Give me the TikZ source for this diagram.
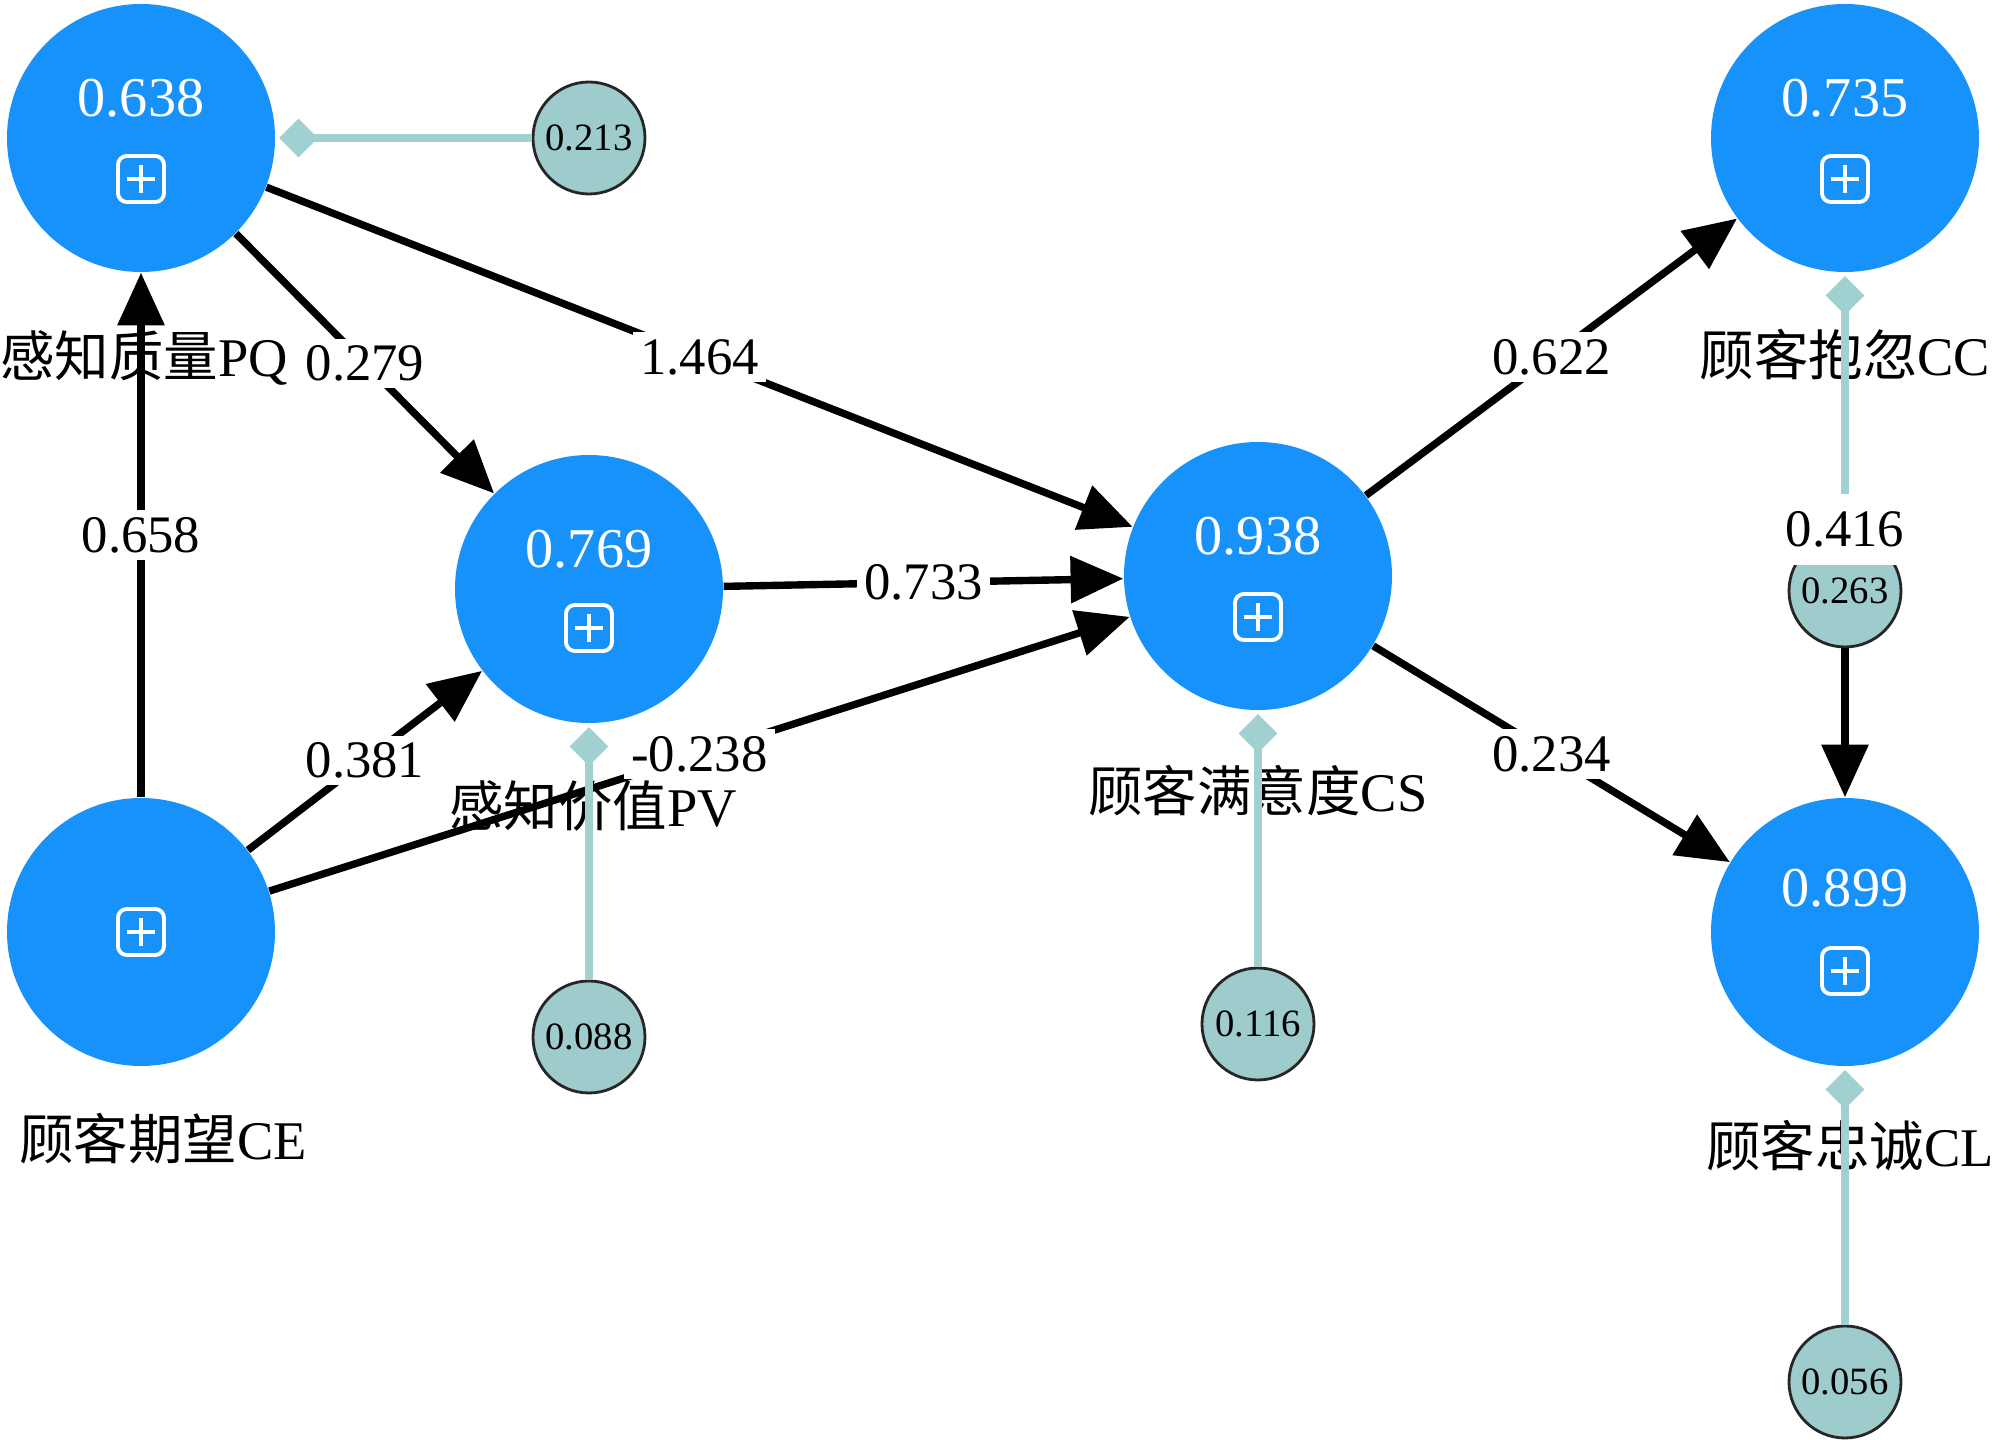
\documentclass[tikz,border=0pt]{standalone}
\usepackage{fontspec}
\setmainfont{Liberation Serif}
\newfontfamily\cjk{Noto Sans CJK SC}
\usetikzlibrary{arrows.meta,calc}
\definecolor{lvblue}{RGB}{22,146,250}
\definecolor{errfill}{RGB}{158,203,204}
\definecolor{indteal}{RGB}{160,208,208}
% white expand box inside a latent variable
\newcommand{\plusbox}[1]{%
  \begin{scope}[shift={(#1)}]
    \draw[white,line width=1.1pt,rounded corners=2.5pt] (-23,-23) rectangle (23,23);
    \draw[white,line width=1.1pt] (-14,0) -- (14,0) (0,-14) -- (0,14);
  \end{scope}}
\begin{document}
\begin{tikzpicture}[x=0.1mm,y=-0.1mm,
    lv/.style={circle,fill=lvblue,minimum size=26.8mm,inner sep=0pt},
    err/.style={circle,draw=black!85,line width=0.8pt,fill=errfill,minimum size=11.2mm,
      inner sep=0pt,font=\fontsize{11}{13}\selectfont},
    val/.style={text=white,inner sep=0pt,font=\fontsize{16}{19}\selectfont},
    lvname/.style={inner sep=0pt,font=\fontsize{15.5}{18}\selectfont},
    lbl/.style={fill=white,inner sep=2pt,font=\fontsize{15}{18}\selectfont},
    arr/.style={line width=2.1pt,-{Triangle[length=15pt,width=13pt]}},
    ind/.style={indteal,line width=2pt,shorten >=1pt,-{Diamond[length=11pt,width=11pt]}}]
  \useasboundingbox (0,0) rectangle (2000,1440);
  % latent variables
  \node[lv] (PQ) at (141,138) {};
  \node[lv] (CC) at (1845,138) {};
  \node[lv] (PV) at (589,589) {};
  \node[lv] (CS) at (1258,576) {};
  \node[lv] (CE) at (141,932) {};
  \node[lv] (CL) at (1845,932) {};
  \node[val] (vPQ) at ($(PQ)+(0,-40)$) {0.638};
  \node[val] (vCC) at ($(CC)+(0,-40)$) {0.735};
  \node[val] (vPV) at ($(PV)+(0,-40)$) {0.769};
  \node[val] (vCS) at ($(CS)+(0,-40)$) {0.938};
  \node[val] (vCL) at ($(CL)+(0,-44)$) {0.899};
  \plusbox{$(PQ)+(0,41)$}
  \plusbox{$(CC)+(0,41)$}
  \plusbox{$(PV)+(0,39)$}
  \plusbox{$(CS)+(0,41)$}
  \plusbox{$(CE)$}
  \plusbox{$(CL)+(0,39)$}
  % names
  \node[lvname] (nPQ) at (144,358) {{\cjk 感知质量}PQ};
  \node[lvname] (nCC) at (1845,355) {{\cjk 顾客抱忽}CC};
  \node[lvname] (nPV) at (593,806) {{\cjk 感知价值}PV};
  \node[lvname] (nCS) at (1258,791) {{\cjk 顾客满意度}CS};
  \node[lvname] (nCE) at (163,1139) {{\cjk 顾客期望}CE};
  \node[lvname] (nCL) at (1850,1146) {{\cjk 顾客忠诚}CL};
  % error terms
  \node[err] (e213) at (589,138) {0.213};
  \node[err] (e088) at (589,1037) {0.088};
  \node[err] (e116) at (1258,1024) {0.116};
  \node[err] (e263) at (1845,591) {0.263};
  \node[err] (e056) at (1845,1382) {0.056};
  % paths
  \draw[arr] (CE) -- node[lbl] (l658) {0.658} (PQ);
  \draw[arr] (PQ) -- node[lbl] (l279) {0.279} (PV);
  \draw[arr] (PQ) -- node[lbl] (l1464) {1.464} (CS);
  \draw[arr] (PV) -- node[lbl] (l733) {0.733} (CS);
  \draw[arr] (CE) -- node[lbl] (l381) {0.381} (PV);
  \draw[arr] (CE) -- node[lbl] (l238) {-0.238} (CS);
  \draw[arr] (CS) -- node[lbl] (l622) {0.622} (CC);
  \draw[arr] (CS) -- node[lbl] (l234) {0.234} (CL);
  \draw[arr] (e263) -- (CL);
  % indicators
  \draw[ind] (e213) -- (PQ);
  \draw[ind] (e088) -- (PV);
  \draw[ind] (e116) -- (CS);
  \draw[ind] (e263) -- (CC);
  \draw[ind] (e056) -- (CL);
  \node[lbl,inner ysep=5pt] (l416) at ($(e263.north)+(0,-4)$) {0.416};
\end{tikzpicture}
\end{document}
